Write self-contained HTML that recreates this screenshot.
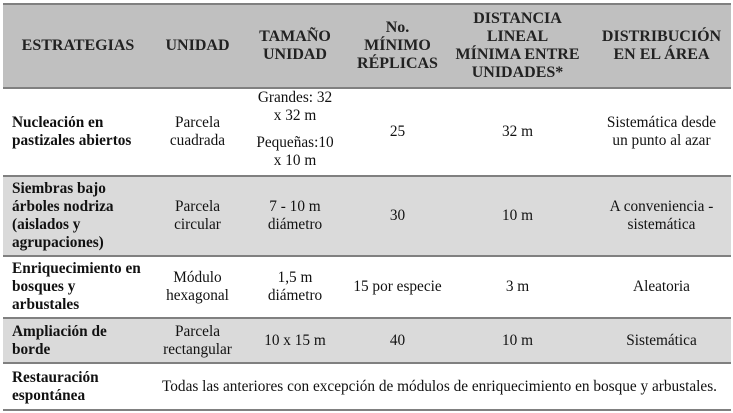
<!DOCTYPE html>
<html><head><meta charset="utf-8"><style>
body{margin:0;width:733px;height:413px;background:#fff;position:relative;overflow:hidden;font-family:"Liberation Serif","Times New Roman",Times,serif;font-size:15.3px;color:#111}
.bg{position:absolute;left:3px;width:728px}
.ln{position:absolute;left:3px;width:728px;height:2px;background:#808080}
.c{position:absolute;display:flex;align-items:center;justify-content:center;text-align:center;line-height:18px}
.l{justify-content:flex-start;text-align:left}
.b{font-weight:bold}
.h{font-weight:bold;font-size:16px;color:#222}
</style></head><body>
<div class="bg" style="top:5px;height:82px;background:#c0c0c0"></div>
<div class="bg" style="top:177px;height:78px;background:#dadada"></div>
<div class="bg" style="top:319px;height:43px;background:#dadada"></div>
<div class="ln" style="top:3px"></div>
<div class="ln" style="top:87px"></div>
<div class="ln" style="top:175px"></div>
<div class="ln" style="top:255px"></div>
<div class="ln" style="top:317px"></div>
<div class="ln" style="top:362px"></div>
<div class="ln" style="top:409px"></div>

<div class="c h" style="left:12px;width:132px;top:5px;height:82px">ESTRATEGIAS</div>
<div class="c h" style="left:150px;width:95px;top:5px;height:82px">UNIDAD</div>
<div class="c h" style="left:245px;width:100px;top:5px;height:82px">TAMAÑO<br>UNIDAD</div>
<div class="c h" style="left:345px;width:105px;top:5px;height:82px">No.<br>MÍNIMO<br>RÉPLICAS</div>
<div class="c h" style="left:450px;width:135px;top:5px;height:82px">DISTANCIA<br>LINEAL<br>MÍNIMA ENTRE<br>UNIDADES*</div>
<div class="c h" style="left:592px;width:139px;top:5px;height:82px">DISTRIBUCIÓN<br>EN EL ÁREA</div>

<div class="c l b" style="left:12px;width:140px;top:89px;height:86px">Nucleación en<br>pastizales abiertos</div>
<div class="c" style="left:150px;width:95px;top:89px;height:86px">Parcela<br>cuadrada</div>
<div class="c" style="left:245px;width:100px;top:89px;height:36px">Grandes: 32<br>x 32 m</div>
<div class="c" style="left:245px;width:100px;top:134px;height:36px">Pequeñas:10<br>x 10 m</div>
<div class="c" style="left:345px;width:105px;top:89px;height:86px">25</div>
<div class="c" style="left:450px;width:135px;top:89px;height:86px">32 m</div>
<div class="c" style="left:592px;width:139px;top:89px;height:86px">Sistemática desde<br>un punto al azar</div>

<div class="c l b" style="left:12px;width:140px;top:177px;height:78px">Siembras bajo<br>árboles nodriza<br>(aislados y<br>agrupaciones)</div>
<div class="c" style="left:150px;width:95px;top:177px;height:78px">Parcela<br>circular</div>
<div class="c" style="left:245px;width:100px;top:177px;height:78px">7 - 10 m<br>diámetro</div>
<div class="c" style="left:345px;width:105px;top:177px;height:78px">30</div>
<div class="c" style="left:450px;width:135px;top:177px;height:78px">10 m</div>
<div class="c" style="left:592px;width:139px;top:177px;height:78px">A conveniencia -<br>sistemática</div>

<div class="c l b" style="left:12px;width:145px;top:257px;height:60px">Enriquecimiento en<br>bosques y<br>arbustales</div>
<div class="c" style="left:150px;width:95px;top:257px;height:60px">Módulo<br>hexagonal</div>
<div class="c" style="left:245px;width:100px;top:257px;height:60px">1,5 m<br>diámetro</div>
<div class="c" style="left:345px;width:105px;top:257px;height:60px">15 por especie</div>
<div class="c" style="left:450px;width:135px;top:257px;height:60px">3 m</div>
<div class="c" style="left:592px;width:139px;top:257px;height:60px">Aleatoria</div>

<div class="c l b" style="left:12px;width:140px;top:319px;height:43px">Ampliación de<br>borde</div>
<div class="c" style="left:150px;width:95px;top:319px;height:43px">Parcela<br>rectangular</div>
<div class="c" style="left:245px;width:100px;top:319px;height:43px">10 x 15 m</div>
<div class="c" style="left:345px;width:105px;top:319px;height:43px">40</div>
<div class="c" style="left:450px;width:135px;top:319px;height:43px">10 m</div>
<div class="c" style="left:592px;width:139px;top:319px;height:43px">Sistemática</div>

<div class="c l b" style="left:12px;width:140px;top:364px;height:45px">Restauración<br>espontánea</div>
<div class="c l" style="left:162px;width:569px;top:364px;height:45px;white-space:nowrap">Todas las anteriores con excepción de módulos de enriquecimiento en bosque y arbustales.</div>
</body></html>
